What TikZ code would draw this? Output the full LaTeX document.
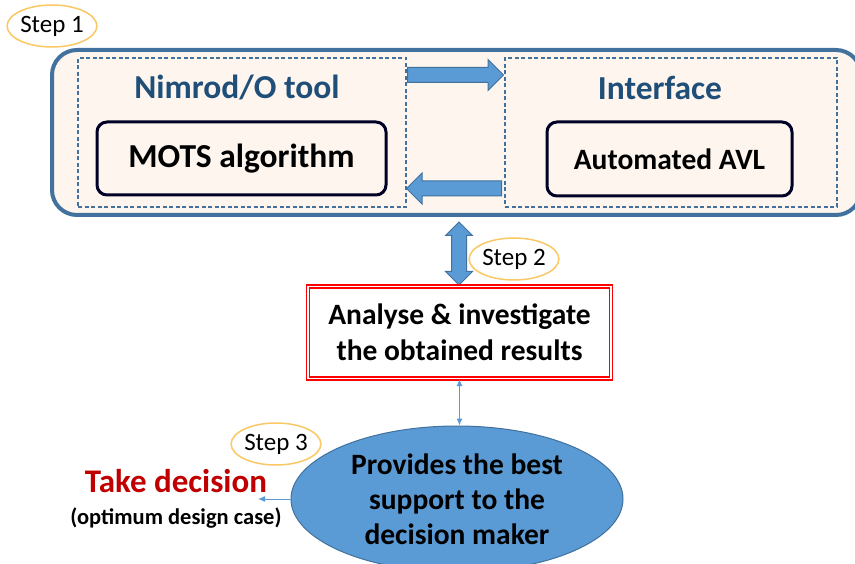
\documentclass[tikz,border=0pt]{standalone}
\usepackage{fontspec}
\setmainfont{Carlito}
\usepackage{tikz}
\usetikzlibrary{arrows.meta,calc,positioning,shapes.geometric,shapes.arrows}

\definecolor{frameblue}{RGB}{65,113,156}
\definecolor{fillblue}{RGB}{91,155,213}
\definecolor{peach}{RGB}{253,245,238}
\definecolor{titleblue}{RGB}{31,78,121}
\definecolor{stepring}{RGB}{250,200,100}
\definecolor{decisionred}{RGB}{192,0,0}

\tikzset{
	steplabel/.style={ellipse, draw=stepring, line width=1.5pt, fill=white, minimum width=87pt, minimum height=42pt, inner sep=0pt, font=\fontsize{25}{30}\selectfont},
	toolframe/.style={draw=frameblue, line width=1.3pt, dash pattern=on 4pt off 2.5pt},
	tooltitle/.style={text=titleblue, font=\fontsize{33.5}{38}\selectfont\bfseries},
	algobox/.style={draw=black!85!blue, line width=3pt, rounded corners=10pt, inner sep=0pt},
	blockarrow/.style={single arrow, draw=frameblue, fill=fillblue, line width=1pt, minimum width=30pt, single arrow head extend=8pt, inner sep=7pt},
	thinarrow/.style={draw=fillblue, line width=1pt},
}

\begin{document}
\begin{tikzpicture}[x=1pt,y=-1pt]
					\useasboundingbox (0,0) rectangle (855,564);

					% main frame
					\draw[frameblue, fill=peach, line width=4pt, rounded corners=25pt] (52,50) rectangle (861,215);

					\node[toolframe, minimum width=328pt, minimum height=149pt] (nimrod) at (242,132.5) {};
					\node[toolframe, minimum width=332pt, minimum height=149pt] (iface) at (671,132.5) {};

					\node[tooltitle] (nimrodtitle) at (237,88) {Nimrod/O tool};
					\node[tooltitle] (ifacetitle) at (660,88) {Interface};

					\node[algobox, minimum width=289pt, minimum height=73pt, font=\fontsize{33.5}{38}\selectfont\bfseries] (mots) at (241.5,158.5) {MOTS algorithm};
					\node[algobox, minimum width=245pt, minimum height=74pt, font=\fontsize{29.5}{34}\selectfont\bfseries] (avl) at (669.5,159) {Automated AVL};

					% arrows between the two frames
					\node[blockarrow, minimum height=96pt, anchor=tail] (toiface) at (407,75) {};
					\node[blockarrow, minimum height=95pt, shape border rotate=180, anchor=tail] (tonimrod) at (502,188.5) {};

					\node[double arrow, draw=frameblue, fill=fillblue, line width=1pt, minimum width=26pt, double arrow head extend=6pt, inner sep=7pt, minimum height=63pt, shape border rotate=90] (updown) at (459,253.5) {};

					\node[draw=red, double=white, double distance=1.5pt, line width=1.3pt, minimum width=303pt, minimum height=92pt, align=center, font=\fontsize{29.5}{36}\selectfont\bfseries] (analyse) at (459.5,332.5) {Analyse \& investigate\\the obtained results};

					\node[ellipse, draw=frameblue, fill=fillblue, line width=1pt, minimum width=332pt, minimum height=146pt, inner sep=0pt, align=center, font=\fontsize{29.5}{35}\selectfont\bfseries] (support) at (457,499) {Provides the best\\support to the\\decision maker};

					\draw[thinarrow, {Latex[length=7pt,width=6pt]}-{Latex[length=7pt,width=6pt]}] (analyse.south) -- (analyse.south |- support.north);

					\node[text=decisionred, font=\fontsize{33}{38}\selectfont\bfseries] (decision) at (176,481) {Take decision};
					\node[font=\fontsize{22.5}{27}\selectfont\bfseries] (optimum) at (176,518) {(optimum design case)};
					\coordinate (decisiontip) at (258,499);
					\draw[thinarrow, -{Latex[length=7pt,width=6pt]}] (support.west) -- (decisiontip);

					\node[steplabel] (step1) at (52,26) {Step 1};
					\node[steplabel] (step2) at (514,259) {Step 2};
					\node[steplabel] (step3) at (276,444) {Step 3};
				\end{tikzpicture}
\end{document}
